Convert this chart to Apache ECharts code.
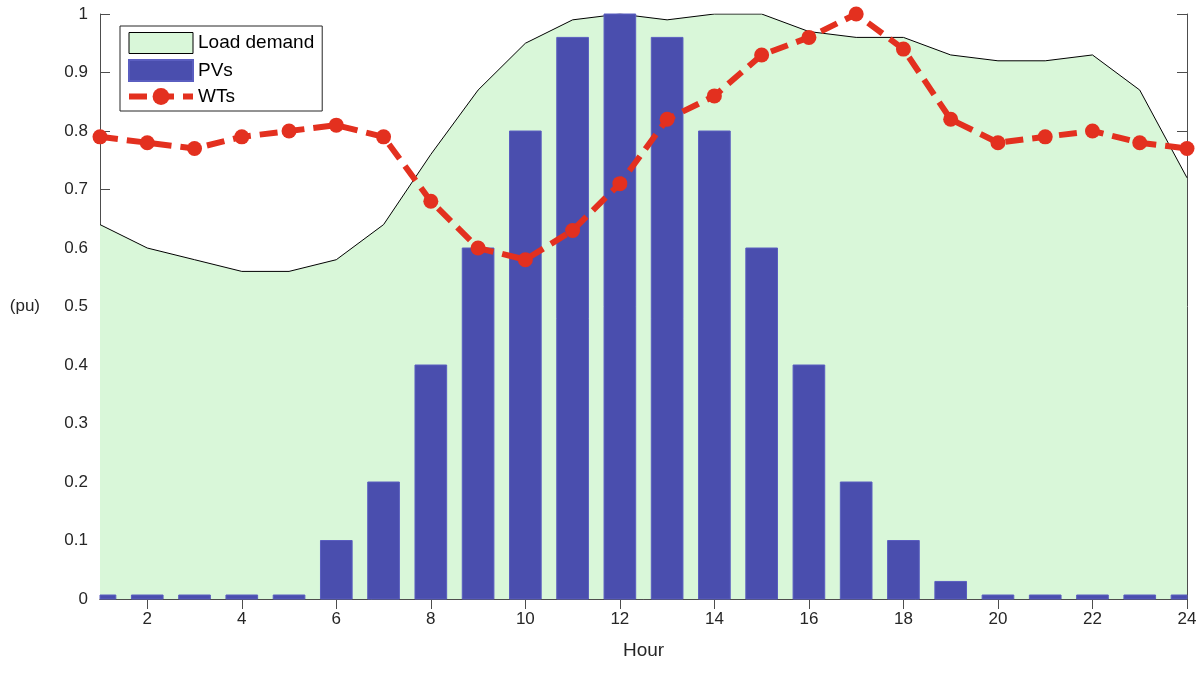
<!DOCTYPE html>
<html>
<head>
<meta charset="utf-8">
<script src="https://cdn.jsdelivr.net/npm/echarts@6/dist/echarts.min.js"></script>
<style>
html, body { margin: 0; padding: 0; background: #fff; }
#chart { width: 1200px; height: 678px; }
</style>
</head>
<body>
<div id="chart"></div>
<script>
var hours = [1, 2, 3, 4, 5, 6, 7, 8, 9, 10, 11, 12, 13, 14, 15, 16, 17, 18, 19, 20, 21, 22, 23, 24];
var loadDemand = [0.64, 0.60, 0.58, 0.56, 0.56, 0.58, 0.64, 0.76, 0.87, 0.95, 0.99, 1.00,
                  0.99, 1.00, 1.00, 0.97, 0.96, 0.96, 0.93, 0.92, 0.92, 0.93, 0.87, 0.72];
var pvs = [0, 0, 0, 0, 0, 0.10, 0.20, 0.40, 0.60, 0.80, 0.96, 1.00,
           0.96, 0.80, 0.60, 0.40, 0.20, 0.10, 0.03, 0, 0, 0, 0, 0];
var wts = [0.79, 0.78, 0.77, 0.79, 0.80, 0.81, 0.79, 0.68, 0.60, 0.58, 0.63, 0.71,
           0.82, 0.86, 0.93, 0.96, 1.00, 0.94, 0.82, 0.78, 0.79, 0.80, 0.78, 0.77];
var xTicks = [2, 4, 6, 8, 10, 12, 14, 16, 18, 20, 22, 24];

function pairs(vals) {
    return hours.map(function (h, i) { return [h, vals[i]]; });
}

var axisGray = '#4d4d4d';
var textColor = '#262626';
var font = 'Liberation Sans, Arial, sans-serif';

// bars drawn as custom rects so the half bars at hour 1 and 24 get cut at the axes
function renderBar(params, api) {
    var x = api.value(0);
    var v = api.value(1);
    var top = api.coord([x, v]);
    var base = api.coord([x, 0]);
    var w = api.size([0.67, 0])[0];
    var h = Math.max(base[1] - top[1], 4);
    var cs = params.coordSys;
    var rect = echarts.graphic.clipRectByRect(
        { x: top[0] - w / 2, y: base[1] - h, width: w, height: h },
        { x: cs.x, y: cs.y, width: cs.width, height: cs.height }
    );
    return rect && { type: 'rect', shape: rect, style: api.style() };
}

var myChart = echarts.init(document.getElementById('chart'));
var option = {
    animation: false,
    textStyle: { fontFamily: font },
    grid: { left: 100, right: 13, top: 14, bottom: 79 },
    legend: {
        left: 120,
        top: 26,
        orient: 'vertical',
        backgroundColor: '#fff',
        borderColor: '#262626',
        borderWidth: 1,
        padding: [6, 8, 5, 6],
        itemGap: 5,
        itemWidth: 64,
        itemHeight: 21,
        textStyle: { fontSize: 19, color: '#000', fontFamily: font },
        data: [
            { name: 'Load demand', icon: 'rect', itemStyle: { color: '#d9f7d9', borderColor: '#000', borderWidth: 1 } },
            { name: 'PVs', icon: 'rect' },
            { name: 'WTs', lineStyle: { width: 6 } }
        ]
    },
    xAxis: [
        {
            type: 'value',
            min: 1,
            max: 24,
            name: 'Hour',
            nameLocation: 'middle',
            nameGap: 42,
            nameTextStyle: { fontSize: 19, color: textColor },
            splitLine: { show: false },
            axisLine: { lineStyle: { color: axisGray } },
            axisTick: { inside: true, length: 10, customValues: xTicks, lineStyle: { color: axisGray } },
            axisLabel: { customValues: xTicks, fontSize: 17, color: textColor, margin: 12 }
        },
        {
            type: 'value',
            position: 'top',
            min: 1,
            max: 24,
            splitLine: { show: false },
            axisLine: { show: true, lineStyle: { color: axisGray } },
            axisTick: { inside: true, length: 10, customValues: xTicks, lineStyle: { color: axisGray } },
            axisLabel: { show: false }
        }
    ],
    yAxis: [
        {
            type: 'value',
            min: 0,
            max: 1,
            interval: 0.1,
            name: '(pu)',
            nameLocation: 'middle',
            nameRotate: 0,
            nameGap: 60,
            nameTextStyle: { fontSize: 17, color: textColor },
            splitLine: { show: false },
            axisLine: { show: true, lineStyle: { color: axisGray } },
            axisTick: { inside: true, length: 10, lineStyle: { color: axisGray } },
            axisLabel: { fontSize: 17, color: textColor, margin: 12 }
        },
        {
            type: 'value',
            position: 'right',
            min: 0,
            max: 1,
            interval: 0.1,
            splitLine: { show: false },
            axisLine: { show: true, lineStyle: { color: axisGray } },
            axisTick: { inside: true, length: 10, lineStyle: { color: axisGray } },
            axisLabel: { show: false }
        }
    ],
    series: [
        {
            name: 'Load demand',
            type: 'line',
            data: pairs(loadDemand),
            symbol: 'none',
            z: 1,
            lineStyle: { color: '#000', width: 1 },
            itemStyle: { color: '#d9f7d9', borderColor: '#000' },
            areaStyle: { color: '#d9f7d9', opacity: 1 }
        },
        {
            name: 'PVs',
            type: 'custom',
            renderItem: renderBar,
            encode: { x: 0, y: 1 },
            data: pairs(pvs),
            z: 2,
            itemStyle: { color: '#4a4eae', borderColor: '#5a5ec0', borderWidth: 1 }
        },
        {
            name: 'WTs',
            type: 'line',
            data: pairs(wts),
            z: 3,
            symbol: 'circle',
            symbolSize: 15,
            itemStyle: { color: '#e3301f' },
            lineStyle: { color: '#e3301f', width: 6, type: [18, 9] }
        }
    ]
};
myChart.setOption(option);
</script>
</body>
</html>
